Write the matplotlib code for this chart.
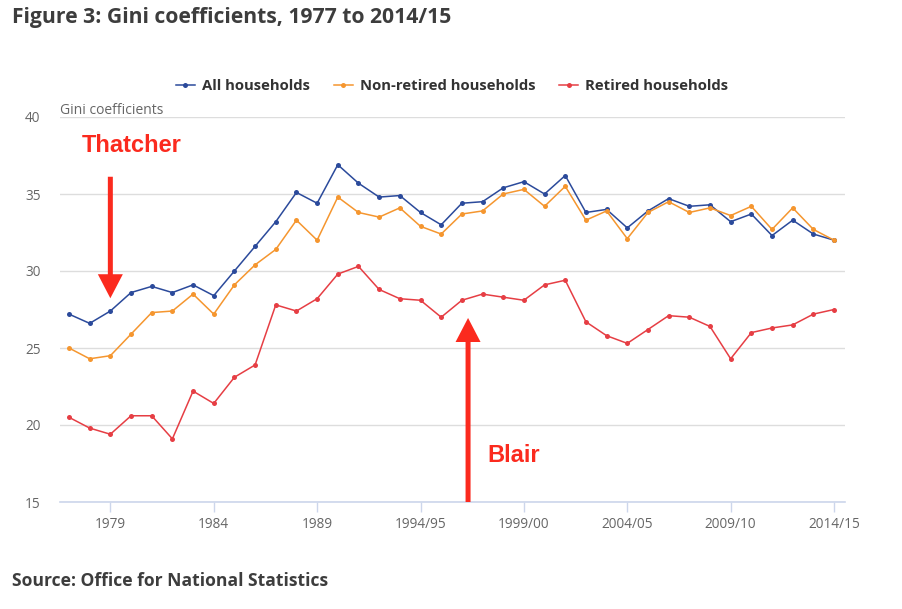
import matplotlib
matplotlib.use("Agg")
import matplotlib.pyplot as plt
from matplotlib.lines import Line2D

plt.rcParams['font.family'] = ['Open Sans', 'DejaVu Sans']

years = [str(y) for y in range(1977, 1994)] + [f"{y}/{str(y + 1)[-2:]}" for y in range(1994, 2015)]

all_households = [27.2, 26.6, 27.4, 28.6, 29.0, 28.6, 29.1, 28.4, 30.0, 31.6,
                  33.2, 35.1, 34.4, 36.9, 35.7, 34.8, 34.9, 33.8, 33.0, 34.4,
                  34.5, 35.4, 35.8, 35.0, 36.2, 33.8, 34.0, 32.8, 33.9, 34.7,
                  34.2, 34.3, 33.2, 33.7, 32.3, 33.3, 32.4, 32.0]
non_retired = [25.0, 24.3, 24.5, 25.9, 27.3, 27.4, 28.5, 27.2, 29.1, 30.4,
               31.4, 33.3, 32.0, 34.8, 33.8, 33.5, 34.1, 32.9, 32.4, 33.7,
               33.9, 35.0, 35.3, 34.2, 35.5, 33.3, 33.9, 32.1, 33.8, 34.5,
               33.8, 34.1, 33.6, 34.2, 32.7, 34.1, 32.7, 32.0]
retired = [20.5, 19.8, 19.4, 20.6, 20.6, 19.1, 22.2, 21.4, 23.1, 23.9,
           27.8, 27.4, 28.2, 29.8, 30.3, 28.8, 28.2, 28.1, 27.0, 28.1,
           28.5, 28.3, 28.1, 29.1, 29.4, 26.7, 25.8, 25.3, 26.2, 27.1,
           27.0, 26.4, 24.3, 26.0, 26.3, 26.5, 27.2, 27.5]
series_names = ["All households", "Non-retired households", "Retired households"]
tick_labels = ["1979", "1984", "1989", "1994/95", "1999/00", "2004/05", "2009/10", "2014/15"]
y_ticks = [15, 20, 25, 30, 35, 40]

colors = ["#2b4a9b", "#f5962f", "#e63e44"]
ann_red = "#fb2a1e"

fig = plt.figure(figsize=(9.02, 6.09), dpi=100)
ax = fig.add_axes([60 / 902, 1 - 502 / 609, 785 / 902, 385 / 609])

x = list(range(len(years)))
for vals, c, name in zip([all_households, non_retired, retired], colors, series_names):
    ax.plot(x, vals, color=c, lw=1.1, marker='o', markersize=3.6,
            markeredgewidth=0, label=name, zorder=3)

ax.set_ylim(15, 40)
ax.set_xlim(-0.435, 37.53)
ax.set_yticks(y_ticks)
ax.set_yticklabels([str(v) for v in y_ticks], color="#666666", fontsize=9.8)
tick_pos = [years.index(t) for t in tick_labels]
ax.set_xticks(tick_pos)
ax.set_xticklabels(tick_labels, color="#666666", fontsize=9.8)
ax.tick_params(axis='y', length=0, pad=14)
ax.tick_params(axis='x', length=7, color="#ccd6eb", width=1, pad=4)

ax.grid(axis='y', color="#dddddd", lw=1)
ax.set_axisbelow(True)
for s in ['top', 'right', 'left']:
    ax.spines[s].set_visible(False)
ax.spines['bottom'].set_color("#ccd6eb")
ax.spines['bottom'].set_linewidth(1.2)

# y axis title
fig.text(60 / 902, 1 - 110 / 609, "Gini coefficients", color="#666666", fontsize=10,
         ha='left', va='center')

# Annotations
arrow_props = dict(width=3.6, headwidth=18, headlength=17.3, facecolor=ann_red,
                   edgecolor='none', lw=0, shrink=0)
thatcher_x = years.index("1979")
ax.annotate("", xy=(thatcher_x, 28.23), xytext=(thatcher_x, 36.12),
            arrowprops=arrow_props, zorder=4)
ax.text(3.03, 38.18, "Thatcher", color=ann_red, fontsize=17,
        fontweight='bold', family=['Liberation Sans', 'DejaVu Sans'], ha='center', va='center')

blair_x = 19.3
ax.annotate("", xy=(blair_x, 26.95), xytext=(blair_x, 15),
            arrowprops=arrow_props, zorder=4, annotation_clip=False)
ax.text(21.52, 17.99, "Blair", color=ann_red, fontsize=17, fontweight='bold',
        family=['Liberation Sans', 'DejaVu Sans'], ha='center', va='center')

# Legend
handles = [Line2D([0], [0], color=c, lw=1.1, marker='o', markersize=3.6, markeredgewidth=0)
           for c in colors]
leg = fig.legend(handles, series_names, loc='center', bbox_to_anchor=(452 / 902, 1 - 86 / 609),
                 ncol=3, frameon=False, handlelength=1.3, handletextpad=0.45, columnspacing=1.6,
                 prop={'weight': 'bold', 'size': 10.7})
for t in leg.get_texts():
    t.set_color("#333333")

# Title and source
fig.text(12 / 902, 1 - 18 / 609, "Figure 3: Gini coefficients, 1977 to 2014/15",
         fontsize=15.2, fontweight='bold', color="#3d3d3d", ha='left', va='center')
fig.text(12 / 902, 1 - 581 / 609, "Source: Office for National Statistics",
         fontsize=12.6, fontweight='bold', color="#3d3d3d", ha='left', va='center')

fig.savefig("out.png", dpi=100)
